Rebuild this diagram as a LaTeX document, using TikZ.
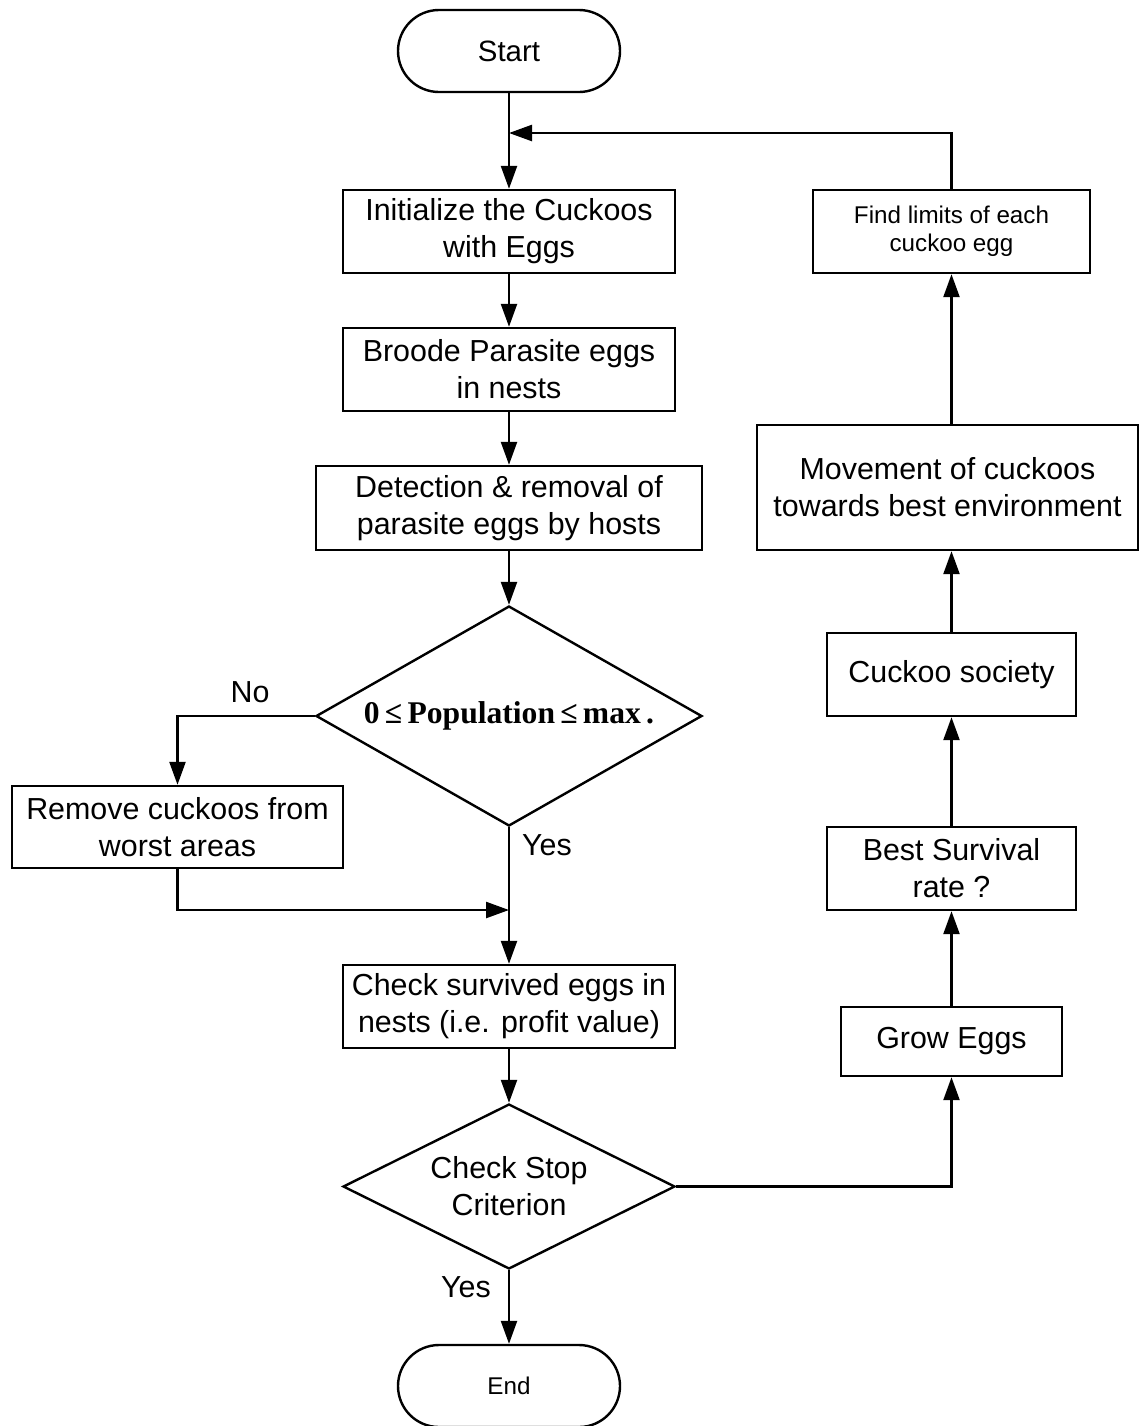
\documentclass[tikz,border=0pt]{standalone}
\usepackage{fontspec}
\setmainfont{Liberation Sans}
\newfontfamily\serifbf{Liberation Serif}
\usetikzlibrary{shapes.geometric,arrows.meta}
\begin{document}
\begin{tikzpicture}[x=0.5pt,y=-0.5pt,
  every node/.style={inner sep=0pt},
  mainfont/.style={font=\fontsize{15.2}{18.5}\selectfont},
  smallfont/.style={font=\fontsize{12.1}{14}\selectfont},
  box/.style={draw, line width=1.2pt, align=center, mainfont, minimum width=#1, minimum height=41.5pt},
  term/.style={draw, line width=1.2pt, rounded corners=20.5pt, minimum width=111pt, minimum height=41pt},
  dec/.style={draw, line width=1.2pt, diamond},
  lab/.style={mainfont},
  line/.style={line width=1.2pt},
  arr/.style={line width=1.2pt, -{Triangle[length=11.5pt,width=8pt]}}]
\useasboundingbox (0,0) rectangle (1139,1426);
% left column
\node[term, font=\fontsize{14.7}{17}\selectfont] (start) at (509,51) {Start};
\node[box=166pt] (init) at (509,231.5) {Initialize the Cuckoos\\with Eggs};
\node[box=166pt] (broode) at (509,369.5) {Broode Parasite eggs\\in nests};
\node[box=193pt, minimum height=42pt] (detect) at (509,508) {Detection \& removal of\\parasite eggs by hosts};
\node[dec, minimum width=193pt, minimum height=110pt] (d1) at (509,716) {};
\node[font=\serifbf\bfseries\fontsize{15.8}{18}\selectfont] (d1t) at (509,716) {0\,≤\,Population\,≤\,max\,.};
\node[box=165.5pt, minimum height=41pt] (remove) at (177.5,827) {Remove cuckoos from\\worst areas};
\node[box=166pt] (check) at (509,1006.5) {Check survived eggs in\\nests (i.e. profit value)};
\node[dec, minimum width=166pt, minimum height=82.5pt] (d2) at (509,1186.5) {};
\node[mainfont, align=center] (d2t) at (509,1186.5) {Check Stop\\Criterion};
\node[term, smallfont] (end) at (509,1386) {End};
% right column
\node[box=138.5pt, smallfont] (find) at (951.5,231.5) {Find limits of each\\cuckoo egg};
\node[box=190.5pt, minimum height=62.5pt] (move) at (947.5,487.5) {Movement of cuckoos\\towards best environment};
\node[box=124.5pt] (society) at (951.5,674.5) {Cuckoo society};
\node[box=124.5pt] (best) at (951.5,868.5) {Best Survival\\rate ?};
\node[box=110.5pt, minimum height=34.5pt] (grow) at (951.5,1041.5) {Grow Eggs};
% helper coordinates
\coordinate (loopy) at (509,133);
\coordinate (joinpt) at (509,910);
% connectors
\draw[arr] (start) -- (init);
\draw[arr] (init) -- (broode);
\draw[arr] (broode) -- (detect);
\draw[arr] (detect) -- (d1.north);
\draw[arr] (d1.west) -| (remove.north);
\node[lab] (nolab) at (250,692) {No};
\draw[arr] (d1.south) -- (check.north);
\node[lab] (yes1) at (547,845) {Yes};
\draw[arr] (remove.south) |- (joinpt);
\draw[arr] (check) -- (d2.north);
\draw[arr] (d2.south) -- (end.north);
\node[lab] (yes2) at (466,1287) {Yes};
\draw[arr] (d2.east) -| (grow.south);
\draw[arr] (grow) -- (best);
\draw[arr] (best) -- (society);
\draw[arr] (society.north) -- (society.north |- move.south);
\draw[arr] (find.south |- move.north) -- (find.south);
\draw[arr] (find.north) |- (loopy);
\end{tikzpicture}
\end{document}
